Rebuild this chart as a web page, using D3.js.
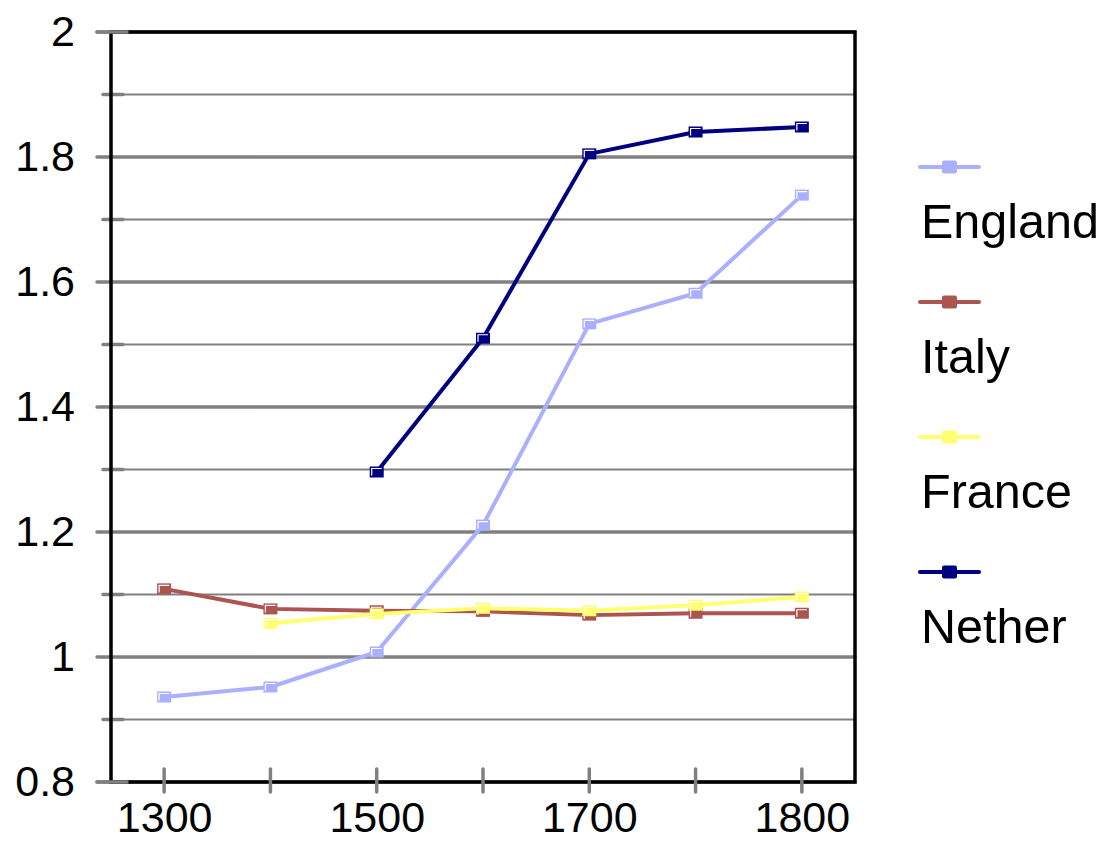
<!DOCTYPE html>
<html>
<head>
<meta charset="utf-8">
<script src="https://cdn.jsdelivr.net/npm/d3@7"></script>
<style>
  body { margin: 0; background: #fff; }
  svg { display: block; font-family: "Liberation Sans", Arial, sans-serif; }
</style>
</head>
<body>
<div id="chart"></div>
<script>
// categories along the x axis
const years = ['1300', '1400', '1500', '1600', '1700', '1750', '1800'];
// only every other year gets a label
const yearLabels = ['1300', '1500', '1700', '1800'];
const yTickLabels = [0.8, 1, 1.2, 1.4, 1.6, 1.8, 2];
const yMinorTicks = [0.9, 1.1, 1.3, 1.5, 1.7, 1.9];

const seriesNames = ['England', 'Italy', 'France', 'Nether'];
const england = [0.936, 0.952, 1.008, 1.211, 1.533, 1.582, 1.739];
const italy = [1.109, 1.077, 1.074, 1.073, 1.067, 1.070, 1.070];
const france = [null, 1.054, 1.069, 1.078, 1.074, 1.083, 1.096];
const nether = [null, null, 1.296, 1.510, 1.805, 1.840, 1.848];
const seriesColors = ['#aab0ff', '#ac5450', '#ffff70', '#000080'];

const width = 1111, height = 846;
const margin = { top: 32, right: 256, bottom: 64, left: 111 };

const svg = d3.select('#chart').append('svg')
  .attr('width', width)
  .attr('height', height);

const x = d3.scalePoint()
  .domain(years)
  .range([margin.left, width - margin.right])
  .padding(0.5);

const y = d3.scaleLinear()
  .domain([0.8, 2])
  .range([height - margin.bottom, margin.top]);

const x0 = margin.left, x1 = width - margin.right;

// gridlines
svg.append('g').selectAll('line.minor')
  .data(yMinorTicks)
  .enter().append('line')
  .attr('x1', x0 - 8).attr('x2', x1)
  .attr('y1', d => y(d)).attr('y2', d => y(d))
  .attr('stroke', '#808080').attr('stroke-width', 2);
svg.append('g').selectAll('line.minortick')
  .data(yMinorTicks)
  .enter().append('line')
  .attr('x1', x0 - 8).attr('x2', x0 + 12)
  .attr('y1', d => y(d)).attr('y2', d => y(d))
  .attr('stroke', '#808080').attr('stroke-width', 3.5).attr('stroke-linecap', 'round');

svg.append('g').selectAll('line.major')
  .data(yTickLabels)
  .enter().append('line')
  .attr('x1', x0 - 14).attr('x2', x1)
  .attr('y1', d => y(d)).attr('y2', d => y(d))
  .attr('stroke', '#808080').attr('stroke-width', 3.5).attr('stroke-linecap', 'round');

// frame
svg.append('rect')
  .attr('x', x0).attr('y', y(2))
  .attr('width', x1 - x0).attr('height', y(0.8) - y(2))
  .attr('fill', 'none').attr('stroke', '#000').attr('stroke-width', 3.5);
// grey stubs where major ticks sit left of the frame
svg.append('g').selectAll('line.stub')
  .data([0.8, 2])
  .enter().append('line')
  .attr('x1', x0 - 14).attr('x2', x0 + 16)
  .attr('y1', d => y(d)).attr('y2', d => y(d))
  .attr('stroke', '#808080').attr('stroke-width', 3.5).attr('stroke-linecap', 'round');

// x tick marks
svg.append('g').selectAll('line.xtick')
  .data(years)
  .enter().append('line')
  .attr('x1', d => x(d)).attr('x2', d => x(d))
  .attr('y1', y(0.8) - 13).attr('y2', y(0.8) + 10)
  .attr('stroke', '#808080').attr('stroke-width', 3.5).attr('stroke-linecap', 'round');

// y axis labels
const yAxis = svg.append('g')
  .attr('transform', `translate(${x0},0)`)
  .call(d3.axisLeft(y).tickValues(yTickLabels).tickSize(0).tickPadding(36)
    .tickFormat(d3.format('~g')));
yAxis.select('.domain').remove();
yAxis.selectAll('text').attr('font-size', 43).attr('fill', '#000')
  .attr('font-family', '"Liberation Sans", Arial, sans-serif');

// x axis labels
const xAxis = svg.append('g')
  .attr('transform', `translate(0,${y(0.8)})`)
  .call(d3.axisBottom(x).tickValues(yearLabels).tickSize(0).tickPadding(19));
xAxis.select('.domain').remove();
xAxis.selectAll('text').attr('font-size', 43).attr('fill', '#000')
  .attr('font-family', '"Liberation Sans", Arial, sans-serif');

// series
const allSeries = [england, italy, france, nether];
const line = d3.line()
  .defined(d => d.v != null)
  .x(d => x(d.year))
  .y(d => y(d.v));

const mw = 14, mh = 11;
allSeries.forEach((vals, i) => {
  const pts = years.map((yr, j) => ({ year: yr, v: vals[j] }));
  const g = svg.append('g');
  g.append('path')
    .datum(pts)
    .attr('d', line)
    .attr('fill', 'none')
    .attr('stroke', seriesColors[i])
    .attr('stroke-width', 4)
    .attr('stroke-linejoin', 'round');
  const m = g.selectAll('g.marker')
    .data(pts.filter(d => d.v != null))
    .enter().append('g')
    .attr('transform', d => `translate(${x(d.year)},${y(d.v)})`);
  m.append('rect')
    .attr('x', -mw / 2).attr('y', -mh / 2)
    .attr('width', mw).attr('height', mh)
    .attr('fill', seriesColors[i]);
  m.append('path')
    .attr('d', `M${-mw / 2 + 2},${mh / 2 - 2}V${-mh / 2 + 2}H${mw / 2 - 2}`)
    .attr('fill', 'none')
    .attr('stroke', '#fff')
    .attr('stroke-width', 1.2);
});

// legend
const legend = svg.append('g').attr('transform', 'translate(920,167)');
const item = legend.selectAll('g')
  .data(seriesNames)
  .enter().append('g')
  .attr('transform', (d, i) => `translate(0,${i * 135})`);
item.append('line')
  .attr('x1', 0).attr('x2', 59)
  .attr('stroke', (d, i) => seriesColors[i])
  .attr('stroke-width', 4)
  .attr('stroke-linecap', 'round');
item.append('rect')
  .attr('x', 22).attr('y', -6.5)
  .attr('width', 15).attr('height', 13)
  .attr('rx', 2)
  .attr('fill', (d, i) => seriesColors[i]);
item.append('text')
  .attr('x', 1).attr('y', 71)
  .attr('font-size', 48.5)
  .attr('fill', '#000')
  .text(d => d);
</script>
</body>
</html>
